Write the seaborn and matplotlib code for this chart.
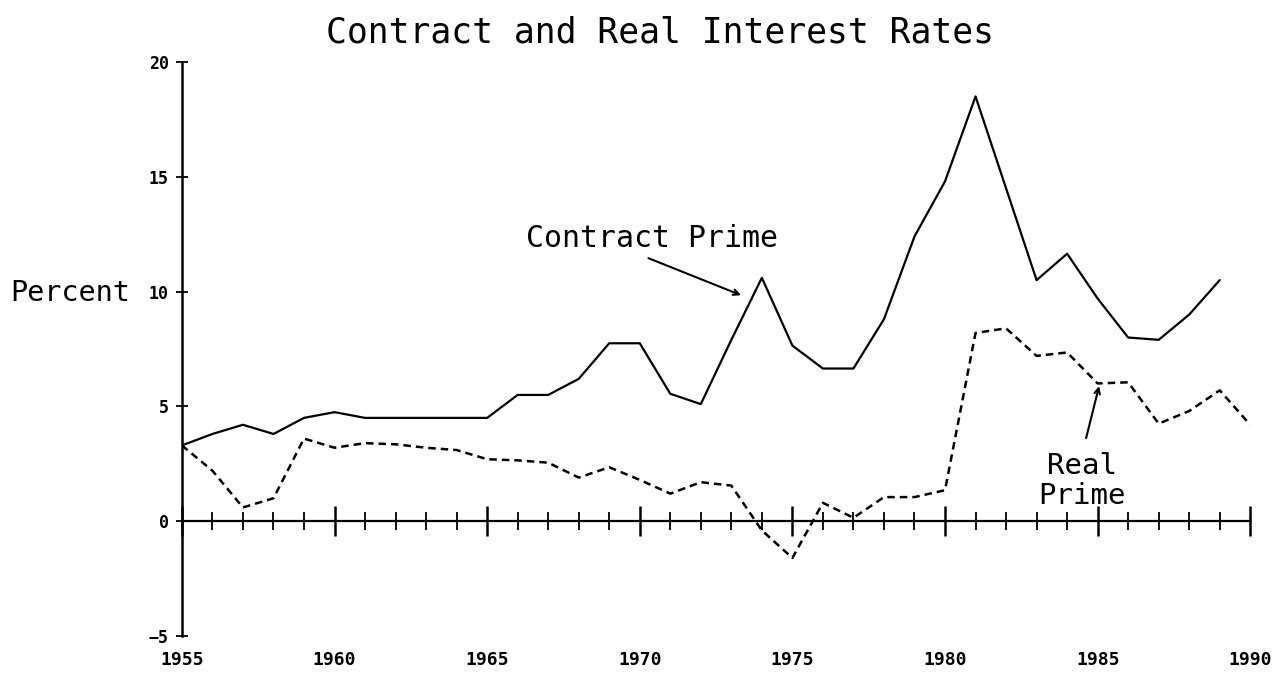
import pandas as pd
import matplotlib.pyplot as plt
import seaborn as sns

years = list(range(1955, 1991))

contract_prime = [3.3, 3.8, 4.2, 3.8, 4.5, 4.75, 4.5, 4.5, 4.5, 4.5,
                  4.5, 5.5, 5.5, 6.2, 7.75, 7.75, 5.55, 5.1, 7.9, 10.6,
                  7.65, 6.65, 6.65, 8.8, 12.4, 14.8, 18.5, 14.5, 10.5, 11.65,
                  9.7, 8.0, 7.9, 9.0, 10.5, None]

real_prime = [3.3, 2.2, 0.6, 1.0, 3.6, 3.2, 3.4, 3.35, 3.2, 3.1,
              2.7, 2.65, 2.55, 1.9, 2.35, 1.8, 1.2, 1.7, 1.55, -0.4,
              -1.6, 0.8, 0.15, 1.05, 1.05, 1.35, 8.2, 8.4, 7.2, 7.35,
              6.0, 6.05, 4.25, 4.8, 5.7, 4.2]

y_ticks = [-5, 0, 5, 10, 15, 20]
x_labels = [1955, 1960, 1965, 1970, 1975, 1980, 1985, 1990]

df = pd.DataFrame({"year": years, "contract": contract_prime, "real": real_prime})

sns.set_style("ticks")
plt.rcParams['font.family'] = ['DejaVu Sans Mono']
plt.rcParams['text.color'] = 'black'
plt.rcParams['axes.edgecolor'] = 'black'
plt.rcParams['xtick.color'] = 'black'
plt.rcParams['ytick.color'] = 'black'

fig = plt.figure(figsize=(12.81, 6.79), dpi=100)
ax = fig.add_axes([0.142, 0.0633, 0.834, 0.8454])

sns.lineplot(data=df.dropna(subset=["contract"]), x="year", y="contract", ax=ax,
             color="black", linewidth=1.6)
sns.lineplot(data=df, x="year", y="real", ax=ax, color="black", linewidth=1.8,
             linestyle=(0, (3, 2)))

ax.set_xlim(1955, 1990)
ax.set_ylim(-5, 20)

# zero line with year ticks
ax.spines['bottom'].set_position(('data', 0))
ax.spines['bottom'].set_linewidth(1.6)
ax.spines['left'].set_linewidth(1.8)
ax.spines['top'].set_visible(False)
ax.spines['right'].set_visible(False)
ax.set_xticks(x_labels)
ax.set_xticks(years, minor=True)
ax.tick_params(axis='x', which='major', direction='inout', length=22, width=1.8,
               labelbottom=False)
ax.tick_params(axis='x', which='minor', direction='inout', length=13, width=1.3)

ax.set_yticks(y_ticks)
ax.tick_params(axis='y', direction='inout', length=9, width=1.3, labelsize=12, pad=5)
for t in ax.get_yticklabels():
    t.set_fontweight('bold')

# year labels along the bottom
sec = ax.secondary_xaxis(0)
sec.set_xticks(x_labels)
sec.spines['bottom'].set_visible(False)
sec.tick_params(length=0, labelsize=13, pad=11)
for t in sec.get_xticklabels():
    t.set_fontweight('bold')

ax.set_xlabel("")
ax.set_ylabel("")

fig.text(0.008, 0.568, "Percent", fontsize=20.5, ha='left', va='center')
fig.text(0.515, 0.952, "Contract and Real Interest Rates", fontsize=25,
         ha='center', va='center')

ax.text(1970.4, 12.3, "Contract Prime", fontsize=21.5, ha='center', va='center')
ax.annotate('', xy=(1973.4, 9.8), xytext=(1970.2, 11.5),
            arrowprops=dict(arrowstyle='->', color='black', lw=1.5))

ax.text(1984.5, 1.75, "Real\nPrime", fontsize=21, ha='center', va='center',
        linespacing=1.05)
ax.annotate('', xy=(1985.07, 6.0), xytext=(1984.6, 3.5),
            arrowprops=dict(arrowstyle='->', color='black', lw=1.5))

fig.savefig("out.png", dpi=100)
